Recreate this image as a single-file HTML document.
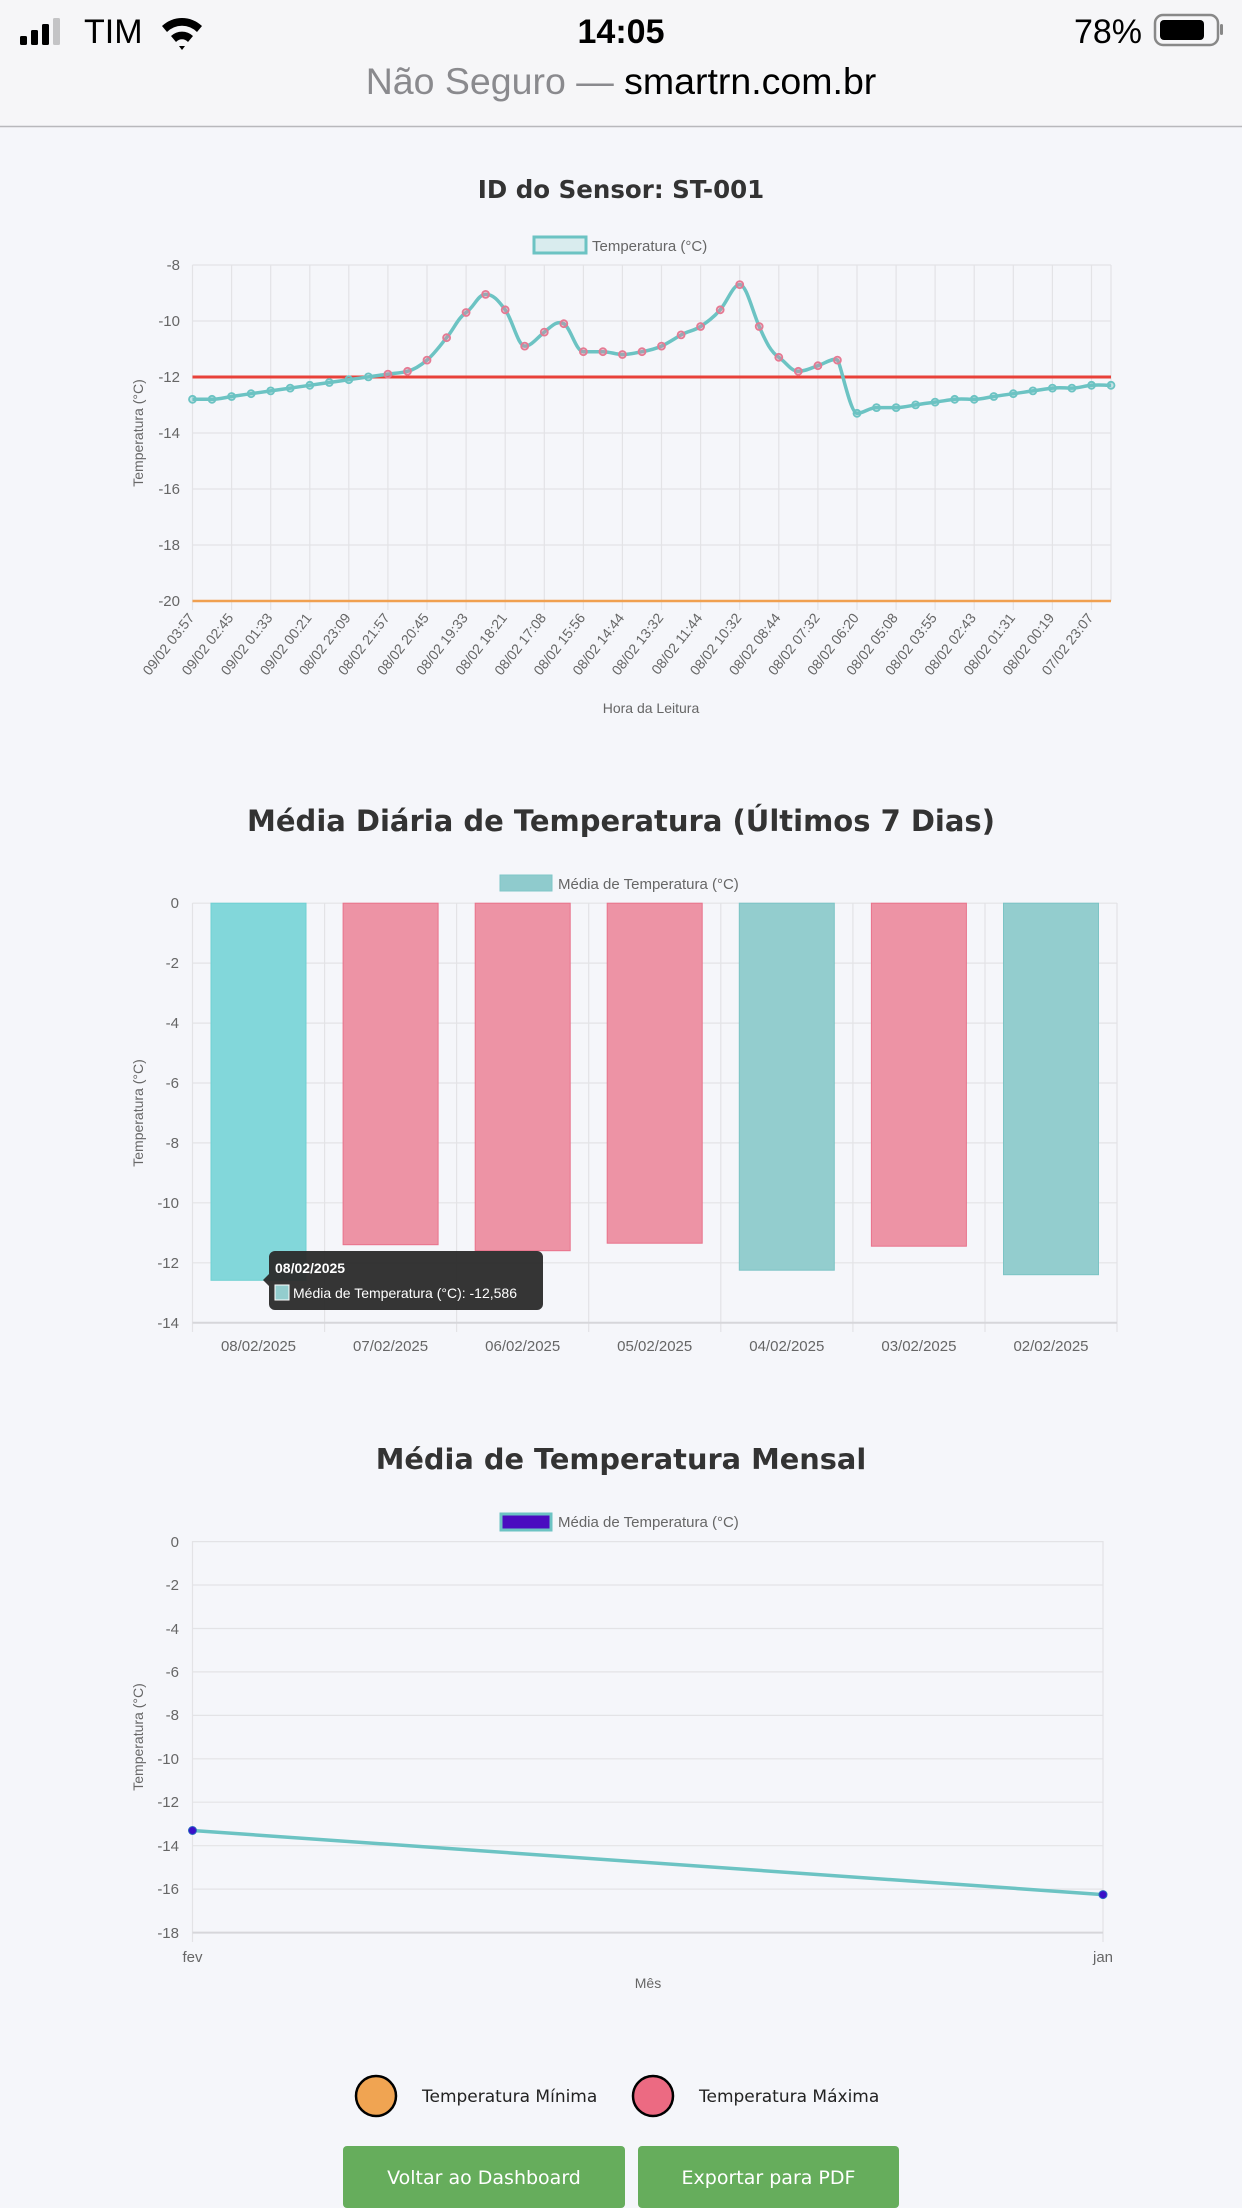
<!DOCTYPE html>
<html><head><meta charset="utf-8">
<style>
html,body{margin:0;padding:0;background:#f5f6fa;}
body{width:1242px;height:2208px;overflow:hidden;position:relative;}
svg{position:absolute;left:0;top:0;}
</style></head>
<body>
<svg width="1242" height="2208" viewBox="0 0 1242 2208" xmlns="http://www.w3.org/2000/svg">
<rect x="0" y="0" width="1242" height="126" fill="#f6f6f8"/>
<line x1="0" y1="126.5" x2="1242" y2="126.5" stroke="#b8b8bc" stroke-width="1.5"/>
<!-- status bar -->
<rect x="20" y="36" width="7" height="9" rx="1.5" fill="#000"/>
<rect x="31" y="30" width="7" height="15" rx="1.5" fill="#000"/>
<rect x="42" y="24" width="7" height="21" rx="1.5" fill="#000"/>
<rect x="53" y="18" width="7" height="27" rx="1.5" fill="#c4c4c6"/>
<text x="84" y="43" font-family="Liberation Sans, sans-serif" font-size="34" fill="#000">TIM</text>
<g transform="translate(182,32)" fill="#000">
<path d="M-20,-6 A29,29 0 0 1 20,-6 L15,0 A21,21 0 0 0 -15,0 Z"/>
<path d="M-11,4 A16,16 0 0 1 11,4 L6,10 A8,8 0 0 0 -6,10 Z"/>
<path d="M-3,14 L3,14 L0,18 Z"/>
</g>
<text x="621" y="43" text-anchor="middle" font-family="Liberation Sans, sans-serif" font-size="34" font-weight="bold" fill="#000">14:05</text>
<text x="1142" y="43" text-anchor="end" font-family="Liberation Sans, sans-serif" font-size="34" fill="#000">78%</text>
<rect x="1155" y="15" width="63" height="30" rx="8" fill="none" stroke="#888" stroke-width="2.5"/>
<rect x="1160" y="20" width="44" height="20" rx="4" fill="#000"/>
<rect x="1220" y="24" width="3" height="11" rx="1.5" fill="#888"/>
<text x="621" y="94" text-anchor="middle" font-family="Liberation Sans, sans-serif" font-size="37.5"><tspan fill="#8a8a8e">Não Seguro — </tspan><tspan fill="#000">smartrn.com.br</tspan></text>

<!-- Chart 1 -->
<text x="621" y="198" text-anchor="middle" font-family="DejaVu Sans, sans-serif" font-size="24.5" font-weight="bold" fill="#333">ID do Sensor: ST-001</text>
<rect x="534" y="237" width="52" height="16" fill="#d9ecee" stroke="#6cc3c3" stroke-width="3"/>
<text x="592" y="251" font-family="Liberation Sans, sans-serif" font-size="15" fill="#666">Temperatura (°C)</text>
<g stroke="#e3e3e6" stroke-width="1.2">
<line x1="192.5" y1="265" x2="1111" y2="265"/><line x1="192.5" y1="321" x2="1111" y2="321"/>
<line x1="192.5" y1="377" x2="1111" y2="377"/><line x1="192.5" y1="433" x2="1111" y2="433"/>
<line x1="192.5" y1="489" x2="1111" y2="489"/><line x1="192.5" y1="545" x2="1111" y2="545"/>
<line x1="192.5" y1="265" x2="192.5" y2="610"/><line x1="231.6" y1="265" x2="231.6" y2="610"/><line x1="270.7" y1="265" x2="270.7" y2="610"/><line x1="309.8" y1="265" x2="309.8" y2="610"/><line x1="348.8" y1="265" x2="348.8" y2="610"/><line x1="387.9" y1="265" x2="387.9" y2="610"/><line x1="427" y1="265" x2="427" y2="610"/><line x1="466.1" y1="265" x2="466.1" y2="610"/><line x1="505.2" y1="265" x2="505.2" y2="610"/><line x1="544.3" y1="265" x2="544.3" y2="610"/><line x1="583.4" y1="265" x2="583.4" y2="610"/><line x1="622.4" y1="265" x2="622.4" y2="610"/><line x1="661.5" y1="265" x2="661.5" y2="610"/><line x1="700.6" y1="265" x2="700.6" y2="610"/><line x1="739.7" y1="265" x2="739.7" y2="610"/><line x1="778.8" y1="265" x2="778.8" y2="610"/><line x1="817.9" y1="265" x2="817.9" y2="610"/><line x1="857" y1="265" x2="857" y2="610"/><line x1="896.1" y1="265" x2="896.1" y2="610"/><line x1="935.1" y1="265" x2="935.1" y2="610"/><line x1="974.2" y1="265" x2="974.2" y2="610"/><line x1="1013.3" y1="265" x2="1013.3" y2="610"/><line x1="1052.4" y1="265" x2="1052.4" y2="610"/><line x1="1091.5" y1="265" x2="1091.5" y2="610"/><line x1="1111" y1="265" x2="1111" y2="601"/>
</g>
<line x1="192.5" y1="377" x2="1111" y2="377" stroke="#e8413a" stroke-width="3"/>
<line x1="192.5" y1="601" x2="1111" y2="601" stroke="#f0a050" stroke-width="2.5"/>
<g font-family="Liberation Sans, sans-serif" font-size="15" fill="#666" text-anchor="end">
<text x="180" y="270">-8</text><text x="180" y="326">-10</text><text x="180" y="382">-12</text><text x="180" y="438">-14</text><text x="180" y="494">-16</text><text x="180" y="550">-18</text><text x="180" y="606">-20</text>
</g>
<text transform="translate(143,433) rotate(-90)" text-anchor="middle" font-family="Liberation Sans, sans-serif" font-size="14" fill="#666">Temperatura (°C)</text>
<path fill="none" stroke="#6cc3c3" stroke-width="3.5" stroke-linejoin="round" d="M192.5,399.3 C199,399.3 205.5,399.3 212,399.3 S225,397.5 231.6,396.5 S244.6,394.6 251.1,393.7 S264.2,391.8 270.7,390.9 S283.7,389 290.2,388.1 S303.3,386.2 309.8,385.3 S322.8,383.4 329.3,382.5 S342.3,380.6 348.8,379.7 S361.9,377.8 368.4,376.9 S381.4,375 387.9,374.1 S401,373 407.5,371.3 S420,366 427,360.1 S439,347 446.6,337.7 S458,318 466.1,312.5 S478,294.4 485.6,294.4 S498,300 505.2,309.8 S518,346.1 524.7,346.1 S537,338 544.3,332.1 S557,320 563.8,323.7 S576,351.7 583.4,351.7 S596,351.7 602.9,351.7 S616,354.5 622.4,354.5 S635,353 642,351.7 S655,349 661.5,346.1 S674,339 681.1,334.9 S694,331 700.6,326.5 S713,318 720.2,309.8 S733,284.6 739.7,284.6 S752,310 759.2,326.5 S771,352 778.8,357.3 S791,371.3 798.3,371.3 S811,368 817.9,365.7 S834,357 837.4,360.1 S850,413.3 857,413.3 S869,407.6 876.5,407.6 S889,407.6 896.1,407.6 S909,406 915.6,404.9 S928,403 935.1,402.1 S948,400 954.7,399.3 S967,399.3 974.2,399.3 S987,397.5 993.8,396.5 S1006,394.6 1013.3,393.7 S1026,391.8 1032.9,390.9 S1045,389 1052.4,388.1 S1065,388.1 1071.9,388.1 S1084,386 1091.5,385.3 S1104,385.3 1111,385.3"/>
<g fill="rgba(108,195,195,0.35)" stroke="#6cc3c3" stroke-width="1.8">
<circle cx="192.5" cy="399.3" r="3.5"/><circle cx="212" cy="399.3" r="3.5"/><circle cx="231.6" cy="396.5" r="3.5"/><circle cx="251.1" cy="393.7" r="3.5"/><circle cx="270.7" cy="390.9" r="3.5"/><circle cx="290.2" cy="388.1" r="3.5"/><circle cx="309.8" cy="385.3" r="3.5"/><circle cx="329.3" cy="382.5" r="3.5"/><circle cx="348.8" cy="379.7" r="3.5"/><circle cx="368.4" cy="376.9" r="3.5"/>
<circle cx="857" cy="413.3" r="3.5"/><circle cx="876.5" cy="407.6" r="3.5"/><circle cx="896.1" cy="407.6" r="3.5"/><circle cx="915.6" cy="404.9" r="3.5"/><circle cx="935.1" cy="402.1" r="3.5"/><circle cx="954.7" cy="399.3" r="3.5"/><circle cx="974.2" cy="399.3" r="3.5"/><circle cx="993.8" cy="396.5" r="3.5"/><circle cx="1013.3" cy="393.7" r="3.5"/><circle cx="1032.9" cy="390.9" r="3.5"/><circle cx="1052.4" cy="388.1" r="3.5"/><circle cx="1071.9" cy="388.1" r="3.5"/><circle cx="1091.5" cy="385.3" r="3.5"/><circle cx="1111" cy="385.3" r="3.5"/>
</g>
<g fill="rgba(236,120,150,0.35)" stroke="#e57a93" stroke-width="1.8">
<circle cx="387.9" cy="374.1" r="3.5"/><circle cx="407.5" cy="371.3" r="3.5"/><circle cx="427" cy="360.1" r="3.5"/><circle cx="446.6" cy="337.7" r="3.5"/><circle cx="466.1" cy="312.5" r="3.5"/><circle cx="485.6" cy="294.4" r="3.5"/><circle cx="505.2" cy="309.8" r="3.5"/><circle cx="524.7" cy="346.1" r="3.5"/><circle cx="544.3" cy="332.1" r="3.5"/><circle cx="563.8" cy="323.7" r="3.5"/><circle cx="583.4" cy="351.7" r="3.5"/><circle cx="602.9" cy="351.7" r="3.5"/><circle cx="622.4" cy="354.5" r="3.5"/><circle cx="642" cy="351.7" r="3.5"/><circle cx="661.5" cy="346.1" r="3.5"/><circle cx="681.1" cy="334.9" r="3.5"/><circle cx="700.6" cy="326.5" r="3.5"/><circle cx="720.2" cy="309.8" r="3.5"/><circle cx="739.7" cy="284.6" r="3.5"/><circle cx="759.2" cy="326.5" r="3.5"/><circle cx="778.8" cy="357.3" r="3.5"/><circle cx="798.3" cy="371.3" r="3.5"/><circle cx="817.9" cy="365.7" r="3.5"/><circle cx="837.4" cy="360.1" r="3.5"/>
</g>
<g font-family="Liberation Sans, sans-serif" font-size="14" fill="#666" text-anchor="end">
<text transform="translate(195,618) rotate(-52)">09/02 03:57</text>
<text transform="translate(234.1,618) rotate(-52)">09/02 02:45</text>
<text transform="translate(273.2,618) rotate(-52)">09/02 01:33</text>
<text transform="translate(312.3,618) rotate(-52)">09/02 00:21</text>
<text transform="translate(351.3,618) rotate(-52)">08/02 23:09</text>
<text transform="translate(390.4,618) rotate(-52)">08/02 21:57</text>
<text transform="translate(429.5,618) rotate(-52)">08/02 20:45</text>
<text transform="translate(468.6,618) rotate(-52)">08/02 19:33</text>
<text transform="translate(507.7,618) rotate(-52)">08/02 18:21</text>
<text transform="translate(546.8,618) rotate(-52)">08/02 17:08</text>
<text transform="translate(585.9,618) rotate(-52)">08/02 15:56</text>
<text transform="translate(624.9,618) rotate(-52)">08/02 14:44</text>
<text transform="translate(664,618) rotate(-52)">08/02 13:32</text>
<text transform="translate(703.1,618) rotate(-52)">08/02 11:44</text>
<text transform="translate(742.2,618) rotate(-52)">08/02 10:32</text>
<text transform="translate(781.3,618) rotate(-52)">08/02 08:44</text>
<text transform="translate(820.4,618) rotate(-52)">08/02 07:32</text>
<text transform="translate(859.5,618) rotate(-52)">08/02 06:20</text>
<text transform="translate(898.6,618) rotate(-52)">08/02 05:08</text>
<text transform="translate(937.6,618) rotate(-52)">08/02 03:55</text>
<text transform="translate(976.7,618) rotate(-52)">08/02 02:43</text>
<text transform="translate(1015.8,618) rotate(-52)">08/02 01:31</text>
<text transform="translate(1054.9,618) rotate(-52)">08/02 00:19</text>
<text transform="translate(1094,618) rotate(-52)">07/02 23:07</text>
</g>
<text x="651" y="713" text-anchor="middle" font-family="Liberation Sans, sans-serif" font-size="14" fill="#666">Hora da Leitura</text>

<!-- Chart 2 -->
<text x="621" y="831" text-anchor="middle" font-family="DejaVu Sans, sans-serif" font-size="29" font-weight="bold" fill="#333">Média Diária de Temperatura (Últimos 7 Dias)</text>
<rect x="500" y="875" width="52" height="16" fill="#8fcbcd" stroke="#7fc7c8" stroke-width="1"/>
<text x="558" y="889" font-family="Liberation Sans, sans-serif" font-size="15" fill="#666">Média de Temperatura (°C)</text>
<g stroke="#e3e3e6" stroke-width="1.2">
<line x1="192.5" y1="903.2" x2="1117" y2="903.2"/><line x1="192.5" y1="963.1" x2="1117" y2="963.1"/><line x1="192.5" y1="1023.1" x2="1117" y2="1023.1"/><line x1="192.5" y1="1083" x2="1117" y2="1083"/><line x1="192.5" y1="1142.9" x2="1117" y2="1142.9"/><line x1="192.5" y1="1202.8" x2="1117" y2="1202.8"/><line x1="192.5" y1="1262.8" x2="1117" y2="1262.8"/>
<line x1="192.5" y1="903" x2="192.5" y2="1332"/><line x1="324.6" y1="903" x2="324.6" y2="1332"/><line x1="456.6" y1="903" x2="456.6" y2="1332"/><line x1="588.7" y1="903" x2="588.7" y2="1332"/><line x1="720.8" y1="903" x2="720.8" y2="1332"/><line x1="852.9" y1="903" x2="852.9" y2="1332"/><line x1="985" y1="903" x2="985" y2="1332"/><line x1="1117" y1="903" x2="1117" y2="1332"/>
</g>
<line x1="192.5" y1="1322.7" x2="1117" y2="1322.7" stroke="#d6d6da" stroke-width="2"/>
<rect x="211" y="903.2" width="95" height="377.1" fill="#82d7da" stroke="#6fd0d3" stroke-width="1"/>
<rect x="343.1" y="903.2" width="95" height="341.5" fill="#ed93a5" stroke="#e9728b" stroke-width="1"/>
<rect x="475.2" y="903.2" width="95" height="347.5" fill="#ed93a5" stroke="#e9728b" stroke-width="1"/>
<rect x="607.2" y="903.2" width="95" height="340" fill="#ed93a5" stroke="#e9728b" stroke-width="1"/>
<rect x="739.3" y="903.2" width="95" height="367" fill="#93cdce" stroke="#7cc4c5" stroke-width="1"/>
<rect x="871.4" y="903.2" width="95" height="343" fill="#ed93a5" stroke="#e9728b" stroke-width="1"/>
<rect x="1003.5" y="903.2" width="95" height="371.5" fill="#93cdce" stroke="#7cc4c5" stroke-width="1"/>
<g font-family="Liberation Sans, sans-serif" font-size="15" fill="#666" text-anchor="end">
<text x="179" y="908">0</text><text x="179" y="968">-2</text><text x="179" y="1028">-4</text><text x="179" y="1088">-6</text><text x="179" y="1148">-8</text><text x="179" y="1208">-10</text><text x="179" y="1268">-12</text><text x="179" y="1328">-14</text>
</g>
<text transform="translate(143,1113) rotate(-90)" text-anchor="middle" font-family="Liberation Sans, sans-serif" font-size="14" fill="#666">Temperatura (°C)</text>
<g font-family="Liberation Sans, sans-serif" font-size="15" fill="#666" text-anchor="middle">
<text x="258.5" y="1351">08/02/2025</text><text x="390.6" y="1351">07/02/2025</text><text x="522.7" y="1351">06/02/2025</text><text x="654.7" y="1351">05/02/2025</text><text x="786.8" y="1351">04/02/2025</text><text x="918.9" y="1351">03/02/2025</text><text x="1051" y="1351">02/02/2025</text>
</g>
<path d="M275,1251 H537 a6,6 0 0 1 6,6 V1304 a6,6 0 0 1 -6,6 H275 a6,6 0 0 1 -6,-6 V1286 L263,1280 L269,1274 V1257 a6,6 0 0 1 6,-6 Z" fill="#2a2a2a" fill-opacity="0.95"/>
<text x="275" y="1273" font-family="Liberation Sans, sans-serif" font-size="14" font-weight="bold" fill="#fff">08/02/2025</text>
<rect x="275" y="1285" width="14" height="15" fill="#93cdce" stroke="#fff" stroke-width="1"/>
<text x="293" y="1298" font-family="Liberation Sans, sans-serif" font-size="14" fill="#fff">Média de Temperatura (°C): -12,586</text>

<!-- Chart 3 -->
<text x="621" y="1469" text-anchor="middle" font-family="DejaVu Sans, sans-serif" font-size="28.8" font-weight="bold" fill="#333">Média de Temperatura Mensal</text>
<rect x="501" y="1514" width="50" height="16" fill="#4a0cc0" stroke="#6cc3c3" stroke-width="3"/>
<text x="558" y="1527" font-family="Liberation Sans, sans-serif" font-size="15" fill="#666">Média de Temperatura (°C)</text>
<g stroke="#e3e3e6" stroke-width="1.2">
<line x1="192.5" y1="1541.6" x2="1103" y2="1541.6"/><line x1="192.5" y1="1585" x2="1103" y2="1585"/><line x1="192.5" y1="1628.5" x2="1103" y2="1628.5"/><line x1="192.5" y1="1671.9" x2="1103" y2="1671.9"/><line x1="192.5" y1="1715.4" x2="1103" y2="1715.4"/><line x1="192.5" y1="1758.8" x2="1103" y2="1758.8"/><line x1="192.5" y1="1802.2" x2="1103" y2="1802.2"/><line x1="192.5" y1="1845.7" x2="1103" y2="1845.7"/><line x1="192.5" y1="1889.1" x2="1103" y2="1889.1"/>
<line x1="192.5" y1="1541" x2="192.5" y2="1942"/><line x1="1103" y1="1541" x2="1103" y2="1942"/>
</g>
<line x1="192.5" y1="1932.6" x2="1103" y2="1932.6" stroke="#d6d6da" stroke-width="2"/>
<g font-family="Liberation Sans, sans-serif" font-size="15" fill="#666" text-anchor="end">
<text x="179" y="1547">0</text><text x="179" y="1590">-2</text><text x="179" y="1634">-4</text><text x="179" y="1677">-6</text><text x="179" y="1720">-8</text><text x="179" y="1764">-10</text><text x="179" y="1807">-12</text><text x="179" y="1851">-14</text><text x="179" y="1894">-16</text><text x="179" y="1938">-18</text>
</g>
<text transform="translate(143,1737) rotate(-90)" text-anchor="middle" font-family="Liberation Sans, sans-serif" font-size="14" fill="#666">Temperatura (°C)</text>
<line x1="192.5" y1="1830.5" x2="1103" y2="1894.6" stroke="#6cc3c3" stroke-width="3.5"/>
<circle cx="192.5" cy="1830.5" r="4" fill="#3a10c8" stroke="#2a6ac0" stroke-width="1"/>
<circle cx="1103" cy="1894.6" r="4" fill="#3a10c8" stroke="#2a6ac0" stroke-width="1"/>
<text x="192.5" y="1962" text-anchor="middle" font-family="Liberation Sans, sans-serif" font-size="15" fill="#666">fev</text>
<text x="1103" y="1962" text-anchor="middle" font-family="Liberation Sans, sans-serif" font-size="15" fill="#666">jan</text>
<text x="648" y="1988" text-anchor="middle" font-family="Liberation Sans, sans-serif" font-size="14" fill="#666">Mês</text>

<!-- legend circles -->
<ellipse cx="376" cy="2096" rx="20" ry="20" fill="#f0a452" stroke="#000" stroke-width="2.5"/>
<text x="422" y="2102" font-family="DejaVu Sans, sans-serif" font-size="17" fill="#222">Temperatura Mínima</text>
<ellipse cx="653" cy="2096" rx="20" ry="20" fill="#ec6a82" stroke="#000" stroke-width="2.5"/>
<text x="699" y="2102" font-family="DejaVu Sans, sans-serif" font-size="17" fill="#222">Temperatura Máxima</text>

<!-- buttons -->
<rect x="343" y="2146" width="282" height="62" rx="4" fill="#66ad5c"/>
<text x="484" y="2184" text-anchor="middle" font-family="DejaVu Sans, sans-serif" font-size="19" fill="#fff">Voltar ao Dashboard</text>
<rect x="638" y="2146" width="261" height="62" rx="4" fill="#66ad5c"/>
<text x="768.5" y="2184" text-anchor="middle" font-family="DejaVu Sans, sans-serif" font-size="19" fill="#fff">Exportar para PDF</text>
</svg>
</body></html>
